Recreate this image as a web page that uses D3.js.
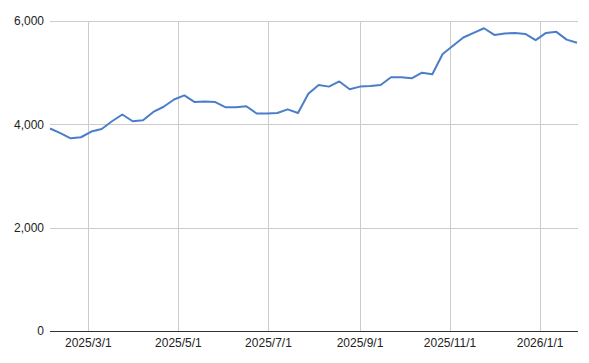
<!DOCTYPE html>
<html>
<head>
<meta charset="utf-8">
<script src="https://cdn.jsdelivr.net/npm/d3@7"></script>
<style>
  body { margin: 0; background: #fff; }
  text { font-family: "Liberation Sans", Arial, sans-serif; }
</style>
</head>
<body>
<div id="chart"></div>
<script>
// weekly values, first week 2025/2/3
var startDate = "2025-02-03";
var values = [
  3920, 3830, 3730, 3750, 3860, 3910, 4060, 4190, 4060, 4080,
  4240, 4340, 4480, 4560, 4430, 4440, 4430, 4330, 4330, 4350,
  4210, 4210, 4220, 4290, 4220, 4590, 4760, 4730, 4830, 4680,
  4730, 4740, 4760, 4910, 4910, 4890, 5000, 4970, 5360, 5520,
  5680, 5770, 5860, 5730, 5760, 5770, 5750, 5630, 5770, 5790,
  5640, 5580
];
var yTicks = [0, 2000, 4000, 6000];
var xTicks = ["2025-03-01", "2025-05-01", "2025-07-01", "2025-09-01", "2025-11-01", "2026-01-01"];

var margin = {top: 21, right: 12, bottom: 32, left: 50},
    width = 589 - margin.left - margin.right,
    height = 363 - margin.top - margin.bottom;

var parse = d3.timeParse("%Y-%m-%d");
var t0 = parse(startDate);
var data = values.map(function(v, i) {
  return {date: d3.timeDay.offset(t0, i * 7), value: v};
});

var x = d3.scaleTime()
    .domain(d3.extent(data, function(d) { return d.date; }))
    .range([0, width]);
var y = d3.scaleLinear()
    .domain([0, 6000])
    .range([height, 0]);

var svg = d3.select("#chart").append("svg")
    .attr("width", 589)
    .attr("height", 363)
  .append("g")
    .attr("transform", "translate(" + margin.left + "," + margin.top + ")");

// horizontal grid
svg.append("g")
    .selectAll("line")
    .data(yTicks.filter(function(d) { return d > 0; }))
    .enter().append("line")
    .attr("x1", 0).attr("x2", width + 1)
    .attr("y1", function(d) { return Math.round(y(d)) + 0.5; })
    .attr("y2", function(d) { return Math.round(y(d)) + 0.5; })
    .attr("stroke", "#cccccc");

// vertical grid
var xDates = xTicks.map(parse);
svg.append("g")
    .selectAll("line")
    .data(xDates)
    .enter().append("line")
    .attr("x1", function(d) { return Math.round(x(d)) + 0.5; })
    .attr("x2", function(d) { return Math.round(x(d)) + 0.5; })
    .attr("y1", 0).attr("y2", height)
    .attr("stroke", "#cccccc");

// y labels
svg.append("g")
    .selectAll("text")
    .data(yTicks)
    .enter().append("text")
    .attr("x", -6)
    .attr("y", function(d) { return y(d); })
    .attr("dy", "0.35em")
    .attr("text-anchor", "end")
    .attr("font-size", 12)
    .attr("fill", "#222")
    .text(d3.format(","));

// x labels
svg.append("g")
    .selectAll("text")
    .data(xDates)
    .enter().append("text")
    .attr("x", function(d) { return x(d); })
    .attr("y", height + 16)
    .attr("text-anchor", "middle")
    .attr("font-size", 12)
    .attr("fill", "#222")
    .text(d3.timeFormat("%Y/%-m/%-d"));

// zero baseline
svg.append("line")
    .attr("x1", 0).attr("x2", width + 1)
    .attr("y1", Math.round(y(0)) + 0.5).attr("y2", Math.round(y(0)) + 0.5)
    .attr("stroke", "#333");

// the line
var line = d3.line()
    .x(function(d) { return x(d.date); })
    .y(function(d) { return y(d.value); });

svg.append("path")
    .datum(data)
    .attr("fill", "none")
    .attr("stroke", "#4a7ec9")
    .attr("stroke-width", 2)
    .attr("stroke-linejoin", "round")
    .attr("d", line);
</script>
</body>
</html>
